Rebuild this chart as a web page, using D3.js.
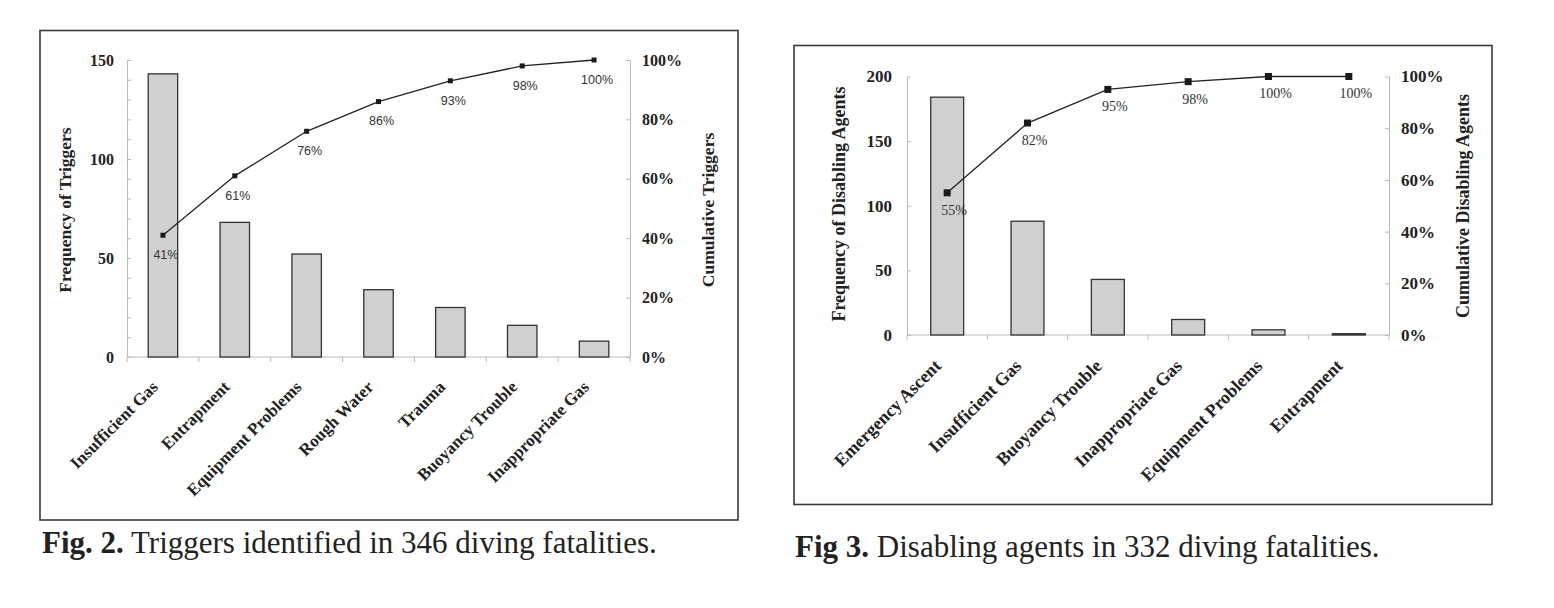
<!DOCTYPE html>
<html>
<head>
<meta charset="utf-8">
<script src="https://cdn.jsdelivr.net/npm/d3@7"></script>
<style>
  body { margin: 0; background: #fff; }
</style>
</head>
<body>
<svg id="chart" width="1554" height="608"></svg>
<script>
// Fig. 2 - triggers
const triggerCats = ["Insufficient Gas", "Entrapment", "Equipment Problems", "Rough Water",
                     "Trauma", "Buoyancy Trouble", "Inappropriate Gas"];
const triggerFreq = [143, 68, 52, 34, 25, 16, 8];
const triggerCum = [41, 61, 76, 86, 93, 98, 100];

// Fig. 3 - disabling agents
const agentCats = ["Emergency Ascent", "Insufficient Gas", "Buoyancy Trouble",
                   "Inappropriate Gas", "Equipment Problems", "Entrapment"];
const agentFreq = [184, 88, 43, 12, 4, 1];
const agentCum = [55, 82, 95, 98, 100, 100];

const SERIF = '"Liberation Serif", "Times New Roman", serif';
const SANS = '"Liberation Sans", Arial, sans-serif';

const svg = d3.select("#chart");

function pareto(cfg) {
    const g = svg.append("g");

    // frame
    g.append("rect")
        .attr("x", cfg.frame[0]).attr("y", cfg.frame[1])
        .attr("width", cfg.frame[2]).attr("height", cfg.frame[3])
        .attr("fill", "none").attr("stroke", "#3a3a3a").attr("stroke-width", 1.6);

    const x = d3.scaleBand()
        .domain(cfg.cats)
        .range([cfg.x0, cfg.x1])
        .paddingInner(0.59).paddingOuter(0.295);

    const y = d3.scaleLinear().domain([0, cfg.yMax]).range([cfg.yBot, cfg.yTop]);
    const yc = d3.scaleLinear().domain([0, 1]).range([cfg.yBot, cfg.yTop]);

    // left axis, ticks pointing inwards
    const left = g.append("g")
        .attr("transform", `translate(${cfg.x0},0)`)
        .call(d3.axisLeft(y)
            .tickValues(d3.range(0, cfg.yMax + 1, cfg.minor))
            .tickSizeInner(-4).tickSizeOuter(0)
            .tickPadding(cfg.lPad)
            .tickFormat(d => d % 50 === 0 ? d : ""));
    left.select(".domain").attr("stroke", "#bbb");
    left.selectAll(".tick line").attr("stroke", "#bbb");
    left.selectAll("text")
        .style("font-family", SERIF).style("font-weight", "bold")
        .style("font-size", cfg.tickSize + "px").attr("fill", "#222");

    // right axis (cumulative %)
    const right = g.append("g")
        .attr("transform", `translate(${cfg.x1},0)`)
        .call(d3.axisRight(yc)
            .tickValues(d3.range(0, 1.01, 0.2))
            .tickSizeInner(-4).tickSizeOuter(0)
            .tickPadding(cfg.rPad)
            .tickFormat(d3.format(".0%")));
    right.select(".domain").attr("stroke", "#bbb");
    right.selectAll(".tick line").attr("stroke", "#bbb");
    right.selectAll("text")
        .style("font-family", SERIF).style("font-weight", "bold")
        .style("font-size", cfg.tickSize + "px").attr("fill", "#222");

    // category axis with ticks at the band edges
    const edges = d3.range(cfg.cats.length + 1).map(i => x.range()[0] + i * x.step());
    g.append("line")
        .attr("x1", cfg.x0).attr("x2", cfg.x1)
        .attr("y1", cfg.yBot).attr("y2", cfg.yBot)
        .attr("stroke", "#bbb");
    g.selectAll(".xtick").data(edges).enter().append("line")
        .attr("x1", d => d).attr("x2", d => d)
        .attr("y1", cfg.yBot).attr("y2", cfg.yBot + 5)
        .attr("stroke", "#bbb");

    // bars
    g.selectAll(".bar").data(cfg.freq).enter().append("rect")
        .attr("x", (d, i) => x(cfg.cats[i]))
        .attr("y", d => y(d))
        .attr("width", x.bandwidth())
        .attr("height", d => cfg.yBot - y(d))
        .attr("fill", "#d0d0d0").attr("stroke", "#333").attr("stroke-width", 1.3);

    // category labels
    g.selectAll(".cat").data(cfg.cats).enter().append("text")
        .attr("transform", d => `translate(${x(d) + x.bandwidth() / 2 + cfg.catDx},${cfg.yBot + cfg.catDy}) rotate(-45)`)
        .attr("text-anchor", "end")
        .style("font-family", SERIF).style("font-weight", "bold")
        .style("font-size", cfg.catSize + "px")
        .attr("fill", "#222")
        .text(d => d);

    // cumulative line
    const pts = cfg.cum.map((c, i) => [x(cfg.cats[i]) + x.bandwidth() / 2, yc(c / 100)]);
    g.append("path")
        .attr("d", d3.line()(pts))
        .attr("fill", "none").attr("stroke", "#222").attr("stroke-width", 1.3);
    g.selectAll(".mk").data(pts).enter().append("rect")
        .attr("x", d => d[0] - cfg.mk / 2).attr("y", d => d[1] - cfg.mk / 2)
        .attr("width", cfg.mk).attr("height", cfg.mk)
        .attr("fill", "#1a1a1a");
    g.selectAll(".pl").data(pts).enter().append("text")
        .attr("x", d => d[0] + cfg.lblDx)
        .attr("y", d => d[1] + cfg.lblDy)
        .attr("dy", "0.35em")
        .attr("text-anchor", "middle")
        .style("font-family", cfg.lblFont)
        .style("font-size", cfg.lblSize + "px")
        .attr("fill", "#333")
        .text((d, i) => cfg.cum[i] + "%");

    // axis titles
    [[cfg.lTitle, cfg.lTitleText], [cfg.rTitle, cfg.rTitleText]].forEach(([p, t]) => {
        g.append("text")
            .attr("transform", `translate(${p[0]},${p[1]}) rotate(-90)`)
            .attr("dy", "0.35em").attr("text-anchor", "middle")
            .style("font-family", SERIF).style("font-weight", "bold")
            .style("font-size", cfg.titleSize + "px").attr("fill", "#222")
            .text(t);
    });

    // caption
    const cap = svg.append("text")
        .attr("x", cfg.cap[0]).attr("y", cfg.cap[1])
        .style("font-family", SERIF).style("font-size", "31px").attr("fill", "#222");
    cap.append("tspan").style("font-weight", "bold").text(cfg.capBold);
    cap.append("tspan").text(cfg.capText);
}

pareto({
    cats: triggerCats, freq: triggerFreq, cum: triggerCum,
    frame: [40, 30.5, 698, 489.5],
    x0: 127, x1: 630, yTop: 60, yBot: 357, yMax: 150, minor: 10,
    lPad: 13, rPad: 12, tickSize: 16,
    catSize: 17, catDx: -4, catDy: 31,
    mk: 5, lblDx: 3, lblDy: 19.5, lblFont: SANS, lblSize: 12.5,
    titleSize: 17.5, lTitle: [65, 210], rTitle: [708, 210],
    lTitleText: "Frequency of Triggers", rTitleText: "Cumulative Triggers",
    cap: [42, 553], capBold: "Fig. 2.", capText: " Triggers identified in 346 diving fatalities."
});

pareto({
    cats: agentCats, freq: agentFreq, cum: agentCum,
    frame: [794, 45.5, 698, 459],
    x0: 907, x1: 1389, yTop: 76.5, yBot: 335, yMax: 200, minor: 50,
    lPad: 15, rPad: 12, tickSize: 17,
    catSize: 18, catDx: -5, catDy: 32,
    mk: 7, lblDx: 7, lblDy: 17, lblFont: SERIF, lblSize: 14,
    titleSize: 18, lTitle: [839, 204], rTitle: [1463, 206],
    lTitleText: "Frequency of Disabling Agents", rTitleText: "Cumulative Disabling Agents",
    cap: [795, 557], capBold: "Fig 3.", capText: " Disabling agents in 332 diving fatalities."
});
</script>
</body>
</html>
